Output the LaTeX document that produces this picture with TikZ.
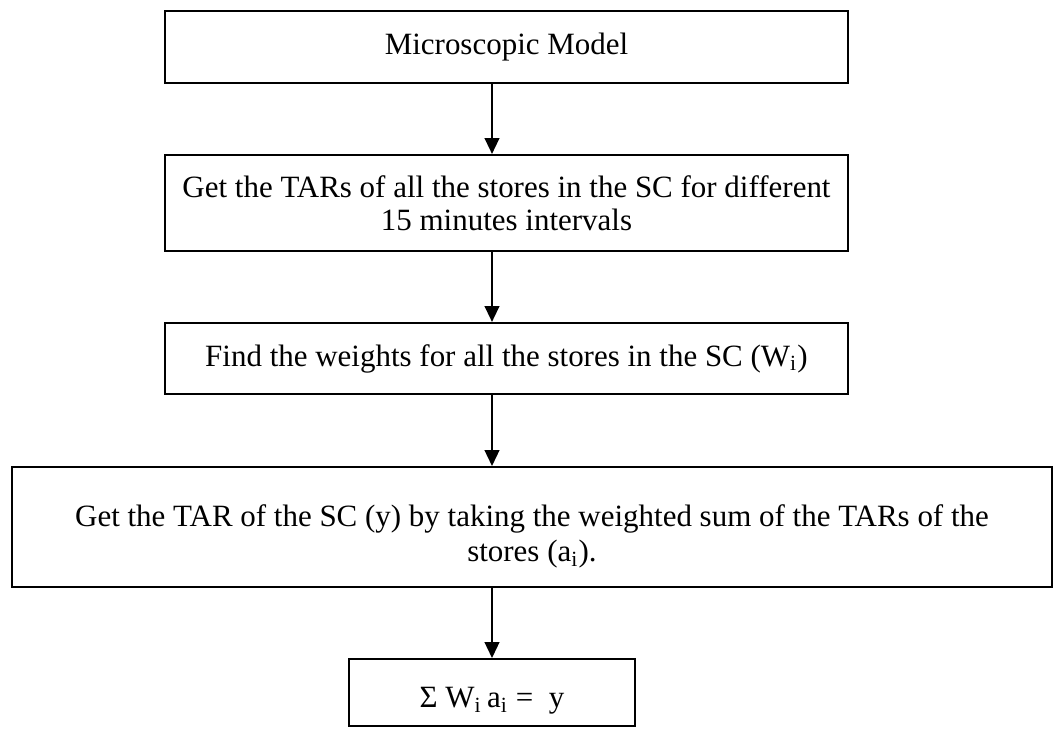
\documentclass[tikz,border=0pt]{standalone}
\usepackage{fontspec}
\setmainfont{Liberation Serif}
\usetikzlibrary{arrows.meta}

\begin{document}
\begin{tikzpicture}[x=0.381pt,y=-0.381pt,line join=miter,
 flowbox/.style={draw,line width=0.8pt,rectangle,align=center,inner sep=0pt,
  font=\fontsize{11.8pt}{12.6pt}\selectfont},
 flowarrow/.style={line width=0.6pt,-{Triangle[length=6pt,width=5.6pt]}}]
 \useasboundingbox (0,0) rectangle (1055,728);
 % Kroki modelu, od gory do dolu.
 \node[flowbox,minimum width=260.2pt,minimum height=27.4pt]
  (model) at (506.5,47) {Microscopic Model};
 \node[flowbox,minimum width=260.2pt,minimum height=36.6pt]
  (tars) at (506.5,203)
  {Get the TARs of all the stores in the SC for different\\
   15 minutes intervals};
 \node[flowbox,minimum width=260.2pt,minimum height=27.1pt]
  (weights) at (506.5,358.5)
  {Find the weights for all the stores in the SC (W\textsubscript{i})};
 \node[flowbox,minimum width=396.2pt,minimum height=45.7pt,
       font=\fontsize{11.8pt}{13.3pt}\selectfont]
  (scsum) at (532,527)
  {\rule{0pt}{15.7pt}Get the TAR of the SC (y) by taking the weighted sum of the TARs of the\\
   stores (a\textsubscript{i}).};
 \node[flowbox,minimum width=109pt,minimum height=25.5pt]
  (result) at (492,692.5)
  {\rule{0pt}{14pt}Σ W\textsubscript{i}\,a\textsubscript{i} =~~y};
 % Strzalki wzdluz osi wyniku.
 \draw[flowarrow] (model.south -| result.center) -- (tars.north -| result.center);
 \draw[flowarrow] (tars.south -| result.center) -- (weights.north -| result.center);
 \draw[flowarrow] (weights.south -| result.center) -- (scsum.north -| result.center);
 \draw[flowarrow] (scsum.south -| result.center) -- (result.north);
\end{tikzpicture}
\end{document}
